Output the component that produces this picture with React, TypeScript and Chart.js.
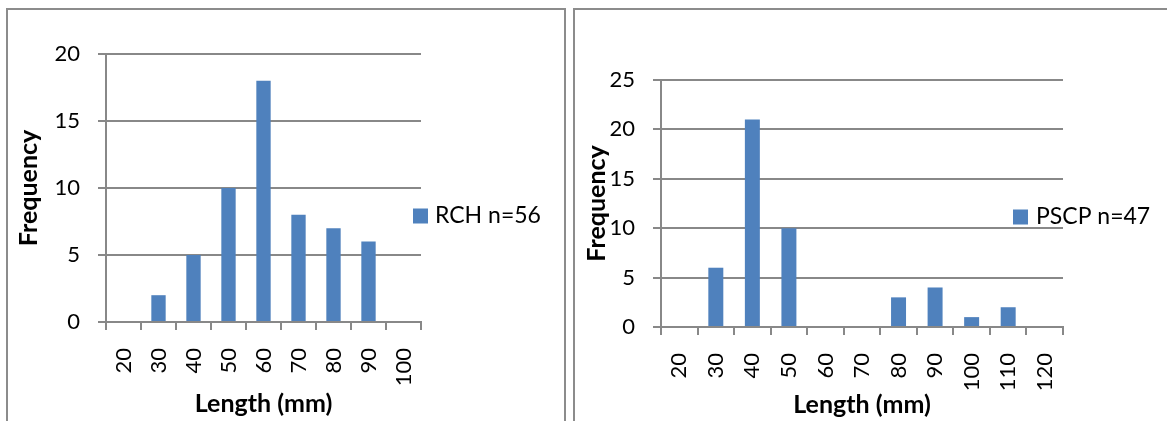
import React, { useEffect, useRef } from "react";
import { Chart, registerables } from "chart.js";

Chart.register(...registerables);

// ---- data ----
const rchCategories = ["20", "30", "40", "50", "60", "70", "80", "90", "100"];
const rchValues = [0, 2, 5, 10, 18, 8, 7, 6, 0];
const rchLabel = "RCH n=56";
const rchYMax = 20;

const pscpCategories = ["20", "30", "40", "50", "60", "70", "80", "90", "100", "110", "120"];
const pscpValues = [0, 6, 21, 10, 0, 0, 3, 4, 1, 2, 0];
const pscpLabel = "PSCP n=47";
const pscpYMax = 25;

const yStep = 5;
const xAxisTitle = "Length (mm)";
const yAxisTitle = "Frequency";

const BAR = "#4F81BD";
const GRID = "#888888";
const FONT = "Lato";
const TICK_SIZE = 22;
const TITLE_SIZE = 25;

const legendPlugin = {
  id: "customLegend",
  afterDraw(chart: any, _args: any, opts: any) {
    const ctx = chart.ctx;
    const ds = chart.data.datasets[0];
    ctx.save();
    ctx.fillStyle = ds.backgroundColor;
    ctx.fillRect(opts.x, opts.y - opts.box / 2, opts.box, opts.box);
    ctx.fillStyle = "#000";
    ctx.font = `${opts.size}px ${FONT}`;
    ctx.textBaseline = "middle";
    ctx.textAlign = "left";
    ctx.fillText(ds.label, opts.textX, opts.y);
    ctx.restore();
  },
};

type HistProps = {
  left: number;
  top: number;
  width: number;
  height: number;
  categories: string[];
  values: number[];
  label: string;
  yMax: number;
  yAxisWidth: number;
  xAxisHeight: number;
  padTop: number;
  padRight: number;
  yTitlePad: number;
  xTitlePad: number;
  legend: { x: number; y: number; box: number; textX: number; size: number };
};

function Hist(p: HistProps) {
  const ref = useRef<HTMLCanvasElement | null>(null);
  useEffect(() => {
    if (!ref.current) return;
    const chart = new Chart(ref.current, {
      type: "bar",
      data: {
        labels: p.categories,
        datasets: [
          {
            label: p.label,
            data: p.values,
            backgroundColor: BAR,
            borderWidth: 0,
            categoryPercentage: 1,
            barPercentage: 0.41,
          },
        ],
      },
      plugins: [legendPlugin],
      options: {
        responsive: false,
        animation: false,
        devicePixelRatio: 1,
        layout: { padding: { left: 0, top: p.padTop, right: p.padRight, bottom: 0 } },
        plugins: {
          legend: { display: false },
          tooltip: { enabled: false },
          customLegend: p.legend,
        } as any,
        scales: {
          x: {
            offset: true,
            grid: {
              offset: true,
              drawOnChartArea: false,
              drawTicks: true,
              tickLength: 8,
              color: GRID,
              lineWidth: 2,
            },
            border: { display: true, color: GRID, width: 2 },
            ticks: {
              autoSkip: false,
              minRotation: 90,
              maxRotation: 90,
              padding: 18,
              color: "#000",
              font: { family: FONT, size: TICK_SIZE },
            },
            title: {
              display: true,
              text: xAxisTitle,
              color: "#000",
              font: { family: FONT, size: TITLE_SIZE, weight: "bold" },
              padding: { top: 0, bottom: p.xTitlePad },
            },
            afterFit: (s: any) => {
              s.height = p.xAxisHeight;
            },
          },
          y: {
            min: 0,
            max: p.yMax,
            ticks: {
              stepSize: yStep,
              padding: 18,
              color: "#000",
              font: { family: FONT, size: TICK_SIZE },
            },
            grid: {
              drawOnChartArea: true,
              drawTicks: true,
              tickLength: 8,
              color: GRID,
              lineWidth: 2,
            },
            border: { display: true, color: GRID, width: 2 },
            title: {
              display: true,
              text: yAxisTitle,
              color: "#000",
              font: { family: FONT, size: TITLE_SIZE, weight: "bold" },
              padding: { top: p.yTitlePad, bottom: 0 },
            },
            afterFit: (s: any) => {
              s.width = p.yAxisWidth;
            },
          },
        },
      } as any,
    });
    return () => chart.destroy();
  }, []);
  return (
    <canvas
      ref={ref}
      width={p.width}
      height={p.height}
      style={{ position: "absolute", left: p.left, top: p.top, width: p.width, height: p.height }}
    />
  );
}

export default function App() {
  const frame = "2px solid #8c8c8c";
  return (
    <div style={{ position: "fixed", inset: 0, overflow: "hidden", background: "#fff" }}>
      <div
        style={{
          position: "absolute",
          left: 6,
          top: 8,
          width: 556,
          height: 440,
          border: frame,
        }}
      />
      <div
        style={{
          position: "absolute",
          left: 573,
          top: 8,
          width: 700,
          height: 440,
          border: frame,
        }}
      />
      <Hist
        left={8}
        top={10}
        width={556}
        height={411}
        categories={rchCategories}
        values={rchValues}
        label={rchLabel}
        yMax={rchYMax}
        yAxisWidth={98}
        xAxisHeight={99}
        padTop={44}
        padRight={143}
        yTitlePad={6}
        xTitlePad={2}
        legend={{ x: 405, y: 206, box: 15, textX: 427, size: 23 }}
      />
      <Hist
        left={575}
        top={10}
        width={592}
        height={411}
        categories={pscpCategories}
        values={pscpValues}
        label={pscpLabel}
        yMax={pscpYMax}
        yAxisWidth={86}
        xAxisHeight={94}
        padTop={70}
        padRight={104}
        yTitlePad={7}
        xTitlePad={1}
        legend={{ x: 438, y: 207, box: 15, textX: 461, size: 23 }}
      />
    </div>
  );
}
